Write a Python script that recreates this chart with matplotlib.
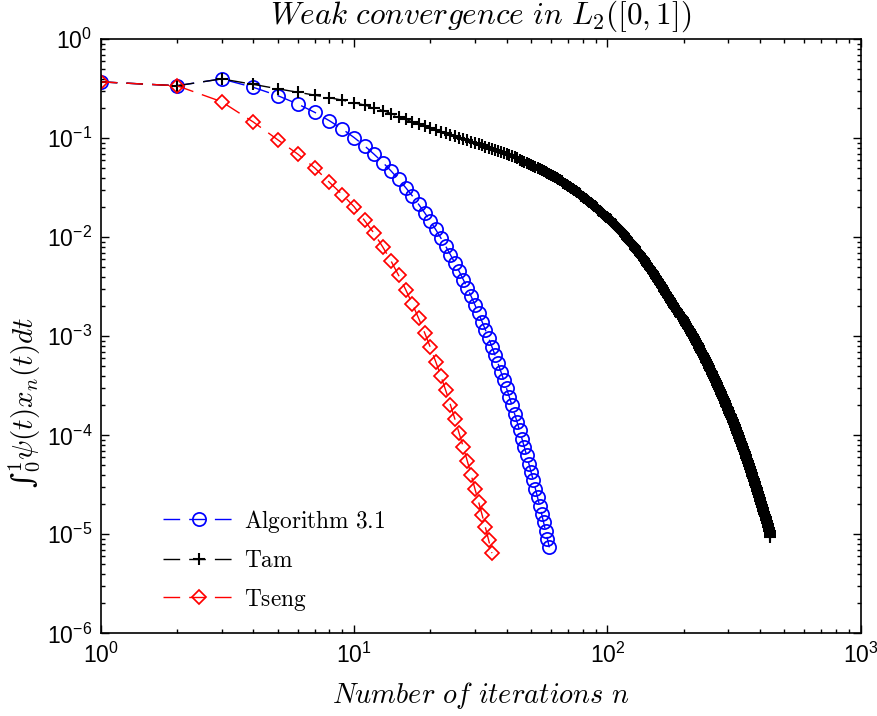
import numpy as np
import matplotlib
matplotlib.use("Agg")
import matplotlib.pyplot as plt
from matplotlib.ticker import LogLocator, NullFormatter, FixedLocator

# ---------------- data (log10 of the plotted quantity, one value per iteration) ----------------
alg31_log10 = [-0.43, -0.469, -0.400, -0.485, -0.569, -0.654, -0.738, -0.823, -0.907, -0.992,
               -1.076, -1.161, -1.245, -1.330, -1.414, -1.499, -1.583, -1.668, -1.752, -1.837,
               -1.921, -2.006, -2.090, -2.175, -2.259, -2.344, -2.428, -2.513, -2.597, -2.682,
               -2.766, -2.851, -2.935, -3.020, -3.104, -3.189, -3.273, -3.358, -3.442, -3.527,
               -3.611, -3.696, -3.780, -3.865, -3.949, -4.034, -4.118, -4.203, -4.287, -4.372,
               -4.456, -4.541, -4.625, -4.710, -4.794, -4.879, -4.963, -5.048, -5.132]

tseng_log10 = [-0.43, -0.469, -0.63, -0.835, -1.015, -1.16, -1.30, -1.445, -1.57, -1.69,
               -1.83, -1.96, -2.10, -2.24, -2.385, -2.53, -2.675, -2.82, -2.965, -3.11,
               -3.255, -3.40, -3.545, -3.69, -3.835, -3.98, -4.12, -4.26, -4.40, -4.54,
               -4.67, -4.80, -4.93, -5.06, -5.19]

tam_log10 = [
    -0.43, -0.469, -0.40, -0.455, -0.50, -0.535, -0.565, -0.59, -0.615, -0.64,
    -0.664, -0.692, -0.72, -0.75, -0.78, -0.808, -0.835, -0.857, -0.879, -0.90,
    -0.916, -0.932, -0.948, -0.964, -0.98, -0.994, -1.008, -1.022, -1.036, -1.05,
    -1.061, -1.072, -1.083, -1.094, -1.105, -1.116, -1.127, -1.138, -1.149, -1.16,
    -1.171, -1.182, -1.193, -1.204, -1.215, -1.226, -1.237, -1.248, -1.259, -1.27,
    -1.28, -1.29, -1.30, -1.31, -1.32, -1.33, -1.34, -1.35, -1.36, -1.37,
    -1.38, -1.39, -1.40, -1.41, -1.42, -1.43, -1.45, -1.46, -1.47, -1.48,
    -1.49, -1.50, -1.51, -1.52, -1.53, -1.54, -1.55, -1.56, -1.58, -1.59,
    -1.60, -1.61, -1.62, -1.63, -1.64, -1.65, -1.66, -1.67, -1.68, -1.69,
    -1.70, -1.72, -1.73, -1.74, -1.75, -1.76, -1.77, -1.78, -1.79, -1.80,
    -1.81, -1.82, -1.83, -1.85, -1.86, -1.87, -1.88, -1.89, -1.90, -1.91,
    -1.92, -1.93, -1.94, -1.95, -1.96, -1.97, -1.99, -2.00, -2.01, -2.02,
    -2.03, -2.04, -2.05, -2.06, -2.07, -2.08, -2.09, -2.10, -2.12, -2.13,
    -2.14, -2.15, -2.16, -2.17, -2.18, -2.19, -2.20, -2.21, -2.22, -2.23,
    -2.24, -2.26, -2.27, -2.28, -2.29, -2.30, -2.31, -2.32, -2.33, -2.34,
    -2.35, -2.36, -2.37, -2.39, -2.40, -2.41, -2.42, -2.43, -2.44, -2.45,
    -2.46, -2.47, -2.48, -2.49, -2.50, -2.51, -2.53, -2.54, -2.55, -2.56,
    -2.57, -2.58, -2.59, -2.60, -2.61, -2.62, -2.63,
    -2.64, -2.65, -2.66, -2.67, -2.68, -2.69, -2.70, -2.71, -2.72, -2.72,
    -2.73, -2.74, -2.75, -2.76, -2.77, -2.78, -2.79, -2.80, -2.81, -2.81,
    -2.82, -2.83, -2.84, -2.85, -2.86, -2.87, -2.88, -2.89, -2.90, -2.90,
    -2.91, -2.92, -2.93, -2.94, -2.95, -2.96, -2.97, -2.98, -2.99, -2.99,
    -3.00, -3.01, -3.02, -3.03, -3.04, -3.05, -3.06, -3.07, -3.08, -3.08,
    -3.09, -3.10, -3.11, -3.12, -3.13, -3.14, -3.15, -3.16, -3.17, -3.17,
    -3.18, -3.19, -3.20, -3.21, -3.22, -3.23, -3.24, -3.25, -3.26, -3.26,
    -3.27, -3.28, -3.29, -3.30, -3.31, -3.32, -3.33, -3.34, -3.35, -3.35,
    -3.36, -3.37, -3.38, -3.39, -3.40, -3.41, -3.42, -3.43, -3.44, -3.44,
    -3.45, -3.46, -3.47, -3.48, -3.49, -3.50, -3.51, -3.52, -3.53, -3.53,
    -3.54, -3.55, -3.56, -3.57, -3.58, -3.59, -3.60, -3.61, -3.62, -3.62,
    -3.63, -3.64, -3.65, -3.66, -3.67, -3.68, -3.69, -3.70, -3.71, -3.71,
    -3.72, -3.73, -3.74, -3.75, -3.76, -3.77, -3.78, -3.79, -3.80, -3.80,
    -3.81, -3.82, -3.83, -3.84, -3.85, -3.86, -3.87, -3.88, -3.89, -3.89,
    -3.90, -3.91, -3.92, -3.93, -3.94, -3.95, -3.96, -3.97, -3.98, -3.98,
    -3.99, -4.00, -4.01, -4.02, -4.03, -4.04, -4.05, -4.06, -4.07, -4.07,
    -4.08, -4.09, -4.10, -4.11, -4.12, -4.13, -4.14, -4.15, -4.16, -4.16,
    -4.17, -4.18, -4.19, -4.20, -4.21, -4.22, -4.23, -4.24, -4.25, -4.25,
    -4.26, -4.27, -4.28, -4.29, -4.30, -4.31, -4.32, -4.33, -4.34, -4.34,
    -4.35, -4.36, -4.37, -4.38, -4.39, -4.40, -4.41, -4.42, -4.43, -4.43,
    -4.44, -4.45, -4.46, -4.47, -4.48, -4.49, -4.50, -4.51, -4.52, -4.52,
    -4.53, -4.54, -4.55, -4.56, -4.57, -4.58, -4.59, -4.60, -4.61, -4.61,
    -4.62, -4.63, -4.64, -4.65, -4.66, -4.67, -4.68, -4.69, -4.70, -4.70,
    -4.71, -4.72, -4.73, -4.74, -4.75, -4.76, -4.77, -4.78, -4.79, -4.79,
    -4.80, -4.81, -4.82, -4.83, -4.84, -4.85, -4.86, -4.87, -4.88, -4.88,
    -4.89, -4.90, -4.91, -4.92, -4.93, -4.94, -4.95, -4.96, -4.97, -4.97,
    -4.99, -5.01, -5.03]

series_labels = [r"$\mathrm{Algorithm\ 3.1}$", r"$\mathrm{Tam}$", r"$\mathrm{Tseng}$"]
title_text = r"$Weak\ convergence\ in\ L_2([0,1])$"
xlabel_text = r"$Number\ of\ iterations\ n$"
ylabel_text = "\u222b" + r"${}_0^1\psi(t)x_n(t)dt$"
x_major_ticks = [1, 10, 100, 1000]
y_major_ticks = [1e-6, 1e-5, 1e-4, 1e-3, 1e-2, 1e-1, 1]

# ---------------- style ----------------
plt.rcParams["font.family"] = ["Liberation Sans", "DejaVu Sans"]
plt.rcParams["mathtext.fontset"] = "custom"
plt.rcParams["mathtext.rm"] = "Liberation Sans"
plt.rcParams["mathtext.it"] = "Liberation Sans:italic"
plt.rcParams["mathtext.bf"] = "Liberation Sans:bold"

W, H = 878, 716
fig = plt.figure(figsize=(W / 100, H / 100), dpi=100)
L, R, T, B = 100.7, 860.7, 39.3, 633.3
ax = fig.add_axes([L / W, 1 - B / H, (R - L) / W, (B - T) / H])

dash = (12, 6.5)
series = [
    (alg31_log10, "blue", "o", 9.5, 1.25),
    (tam_log10, "black", "+", 9.0, 1.5),
    (tseng_log10, "red", "D", 7.4, 1.25),
]
for (vals, col, mk, ms, mew), lab in zip(series, series_labels):
    v = np.asarray(vals, dtype=float)
    n = np.arange(1, len(v) + 1)
    ax.plot(n, 10.0 ** v, color=col, linestyle="--", dashes=dash, lw=1.0,
            marker=mk, ms=ms, mfc="none", mec=col, mew=mew, label=lab)

ax.set_xscale("log")
ax.set_yscale("log")
ax.set_xlim(1, 1000)
ax.set_ylim(1e-6, 1)

ax.xaxis.set_major_locator(FixedLocator(x_major_ticks))
ax.yaxis.set_major_locator(FixedLocator(y_major_ticks))
ax.xaxis.set_minor_locator(LogLocator(base=10, subs=np.arange(2, 10), numticks=20))
ax.yaxis.set_minor_locator(LogLocator(base=10, subs=np.arange(2, 10), numticks=20))
ax.xaxis.set_minor_formatter(NullFormatter())
ax.yaxis.set_minor_formatter(NullFormatter())

ax.tick_params(which="both", direction="in", top=True, right=True, width=1.0, labelsize=16.5)
ax.tick_params(which="major", length=5.5)
ax.tick_params(which="minor", length=3)
ax.tick_params(axis="x", pad=7)
ax.tick_params(axis="y", pad=6)
for s in ax.spines.values():
    s.set_linewidth(1.2)

t = ax.set_title(title_text, fontsize=22.5, pad=11)
t.set_math_fontfamily("cm")
xl = ax.set_xlabel(xlabel_text, fontsize=20.4, labelpad=8.5)
xl.set_math_fontfamily("cm")
yl = ax.set_ylabel(ylabel_text, fontsize=21, family=["DejaVu Serif"])
yl.set_math_fontfamily("cm")
ax.yaxis.set_label_coords(-0.077, 0.389)

leg = ax.legend(loc="lower left", bbox_to_anchor=(0.082, 0.035), frameon=False,
                fontsize=16.8, handlelength=3.1, handletextpad=0.35, labelspacing=0.62,
                borderpad=0, borderaxespad=0, numpoints=1)
for txt in leg.get_texts():
    txt.set_math_fontfamily("cm")

fig.savefig("out.png", dpi=100)
